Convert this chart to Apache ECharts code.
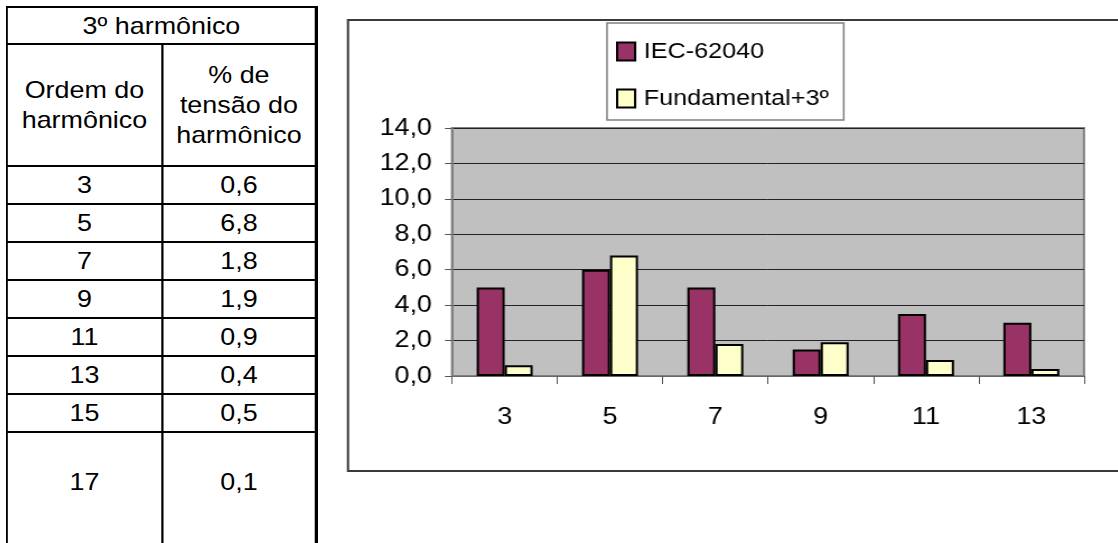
<!DOCTYPE html>
<html>
<head>
<meta charset="utf-8">
<script src="https://cdn.jsdelivr.net/npm/echarts@6/dist/echarts.min.js"></script>
<style>
  html, body { margin: 0; padding: 0; background: #fff; width: 1118px; height: 543px; overflow: hidden;
               font-family: "Liberation Sans", Arial, sans-serif; }
  /* the whole page is drawn slightly condensed and widened back with scaleX */
  #pagina { position: absolute; left: 0; top: 0; height: 543px; transform-origin: 0 0; }
  #chart { position: absolute; left: 0; top: 0; height: 543px; }
  #tabela { position: absolute; top: 6px; display: grid; background: #000; box-sizing: border-box; }
  .c { background: #fff; display: flex; align-items: center; justify-content: center;
       text-align: center; font-size: 24px; line-height: 30px; color: #000; }
  .titulo { grid-column: 1 / span 2; }
  .ultima { align-items: flex-start; padding-top: 34px; }
</style>
</head>
<body>
<div id="pagina">
  <div id="chart"></div>
  <div id="tabela"></div>
</div>
<script>
// Tabela: ordem do harmônico e % de tensão (3º harmônico)
const ordens = [3, 5, 7, 9, 11, 13, 15, 17];
const tensaoHarmonico = [0.6, 6.8, 1.8, 1.9, 0.9, 0.4, 0.5, 0.1];

// Gráfico: limites IEC-62040 x medição Fundamental+3º
const categorias = ['3', '5', '7', '9', '11', '13'];
const iec62040 = [5.0, 6.0, 5.0, 1.5, 3.5, 3.0];
const fundamental3 = [0.6, 6.8, 1.8, 1.9, 0.9, 0.4];
const nomesSeries = ['IEC-62040', 'Fundamental+3º'];

const virgula = v => v.toFixed(1).replace('.', ',');

// horizontal stretch of the page
const SX = 1.12;
const X = px => px / SX;
const W = 1118;

const pagina = document.getElementById('pagina');
pagina.style.width = X(W) + 'px';
pagina.style.transform = 'scaleX(' + SX + ')';
document.getElementById('chart').style.width = X(W) + 'px';

// monta a tabela
const tabela = document.getElementById('tabela');
Object.assign(tabela.style, {
  left: X(6) + 'px',
  width: X(311) + 'px',
  gridTemplateColumns: X(153) + 'px ' + X(152) + 'px',
  gridTemplateRows: '35px 120px repeat(7, 36px) 112px',
  rowGap: '2px', columnGap: X(2) + 'px',
  padding: '2px ' + X(2) + 'px'
});
function celula(html, cls) {
  const d = document.createElement('div');
  d.className = 'c' + (cls ? ' ' + cls : '');
  d.innerHTML = html;
  tabela.appendChild(d);
}
celula('3º harmônico', 'titulo');
celula('Ordem do<br>harmônico');
celula('% de<br>tensão do<br>harmônico');
ordens.forEach((o, i) => {
  const cls = i === ordens.length - 1 ? 'ultima' : '';
  celula(String(o), cls);
  celula(virgula(tensaoHarmonico[i]), cls);
});

// gráfico de barras
const fonte = '"Liberation Sans", Arial, sans-serif';
const chart = echarts.init(document.getElementById('chart'), null, { renderer: 'canvas' });
chart.setOption({
  animation: false,
  backgroundColor: 'transparent',
  graphic: [{
    type: 'rect', z: -10, silent: true,
    shape: { x: X(348), y: 20, width: X(820), height: 451 },
    style: { fill: '#fff', stroke: '#3a3a3a', lineWidth: 2 }
  }],
  legend: {
    orient: 'vertical', left: X(607), top: 23,
    padding: [17, X(15), 10, X(9)], itemGap: 24,
    itemWidth: X(18), itemHeight: 18, icon: 'rect',
    backgroundColor: '#fff', borderColor: '#808080', borderWidth: 1.5,
    itemStyle: { borderColor: '#000', borderWidth: 2 },
    textStyle: { fontFamily: fonte, fontSize: 22.5, color: '#000', padding: [0, 0, 0, X(3)] },
    data: nomesSeries
  },
  grid: {
    left: X(452), top: 128, width: X(632), height: 248,
    show: true, backgroundColor: '#C0C0C0', borderColor: '#808080', borderWidth: 2
  },
  xAxis: {
    type: 'category', data: categorias,
    axisLine: { lineStyle: { color: '#808080', width: 1.5 } },
    axisTick: { show: true, length: 8, lineStyle: { color: '#555' } },
    axisLabel: { color: '#000', fontFamily: fonte, fontSize: 24, margin: 29 }
  },
  yAxis: {
    type: 'value', min: 0, max: 14, interval: 2,
    axisLine: { show: true, lineStyle: { color: '#808080', width: 2 } },
    axisTick: { show: true, length: X(7), lineStyle: { color: '#555' } },
    axisLabel: { color: '#000', fontFamily: fonte, fontSize: 24, margin: X(20), formatter: virgula },
    splitLine: { lineStyle: { color: '#222', width: 1 } }
  },
  series: [
    {
      name: nomesSeries[0], type: 'bar', data: iec62040,
      barWidth: X(28), barGap: '0%',
      itemStyle: { color: '#993366', borderColor: '#000', borderWidth: 2 }
    },
    {
      name: nomesSeries[1], type: 'bar', data: fundamental3,
      barWidth: X(28), barGap: '0%',
      itemStyle: { color: '#FFFFCC', borderColor: '#000', borderWidth: 2 }
    }
  ]
});
</script>
</body>
</html>
